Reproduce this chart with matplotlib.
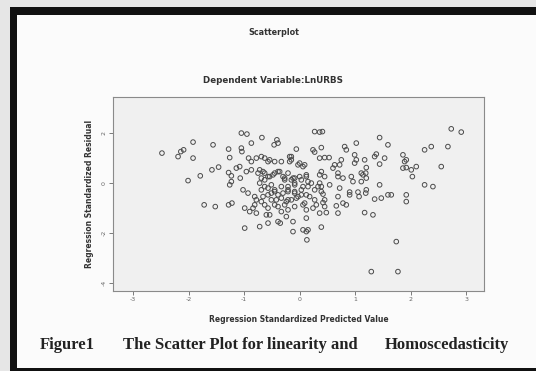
import matplotlib
matplotlib.use("Agg")
import matplotlib.pyplot as plt
from matplotlib.patches import Rectangle

# --- data (standardized predicted value, standardized residual)
pred = [
    -2.48, -2.19, -2.14, -2.09, -1.92, -1.92, -1.56, -1.28, -1.26, -1.05,
    -1.04, -0.95, -0.87, -0.68, -0.46, -0.41, -0.06, -2.01, -1.79, -1.58,
    -1.46, -1.28, -1.23, -1.23, -1.26, -1.14, -1.08, -1.07, -0.92, -0.87,
    0.27, 0.36, 0.41, 0.39, 0.27, 0.24, 0.36, 0.45, 0.53, 0.81,
    0.84, 1.02, 1.44, 1.59, 1.89, 1.92, 1.86, 2.25, 2.37, 2.67,
    2.73, 2.91, 2.55, 0.60, 0.63, 0.72, 0.75, 0.99, 1.02, 0.99,
    1.17, 1.20, 1.35, 1.38, 1.53, 1.44, 1.86, 1.92, 2.01, 2.03,
    2.10, 0.36, 0.39, 0.45, 0.69, 0.69, 0.78, 0.93, 0.96, 1.11,
    1.14, 1.19, 1.20, 1.11, 1.44, 2.25, 2.40, 0.21, 0.36, 0.39,
    0.54, 0.72, 0.90, 1.05, 1.20, 1.07, 1.47, 1.65, 1.92, 1.92,
    0.39, 0.69, 0.90, 1.19, 1.35, 1.59, 0.18, 0.27, 0.30, 0.42,
    0.45, 0.24, 0.36, 0.48, 0.66, 0.69, 0.78, 0.84, 0.39, 0.15,
    1.17, 1.32, 1.74, 1.29, 1.77, -1.72, -1.52, -1.28, -1.22, -0.99,
    -0.90, -0.78, -0.84, -0.78, -0.66, -0.57, -0.51, -0.39, -0.63, -0.57,
    -0.60, -0.54, -0.57, -0.42, -0.39, -0.33, -0.39, -0.35, -0.24, -0.21,
    -0.24, -0.15, -0.06, -0.99, -0.72, -0.12, -0.12, 0.06, 0.12, 0.12,
    0.12, 0.06, 0.13, -0.30, -0.21, -0.09, 0.03, 0.12, -1.05, -0.39,
    -0.69, -0.63, -0.57, -0.45, -0.33, -0.15, -0.15, -0.96, -0.87, -0.75,
    -0.66, -0.69, -0.63, -0.54, -0.45, -0.36, -0.27, -0.15, -0.09, 0.03,
    0.12, 0.15, -1.02, -0.93, -0.81, -0.69, -0.57, -0.45, -0.33, -0.21,
    -0.09, 0.03, -0.03, -0.33, -0.51, -0.69, -0.81, -0.45, -0.27, -0.09,
    0.09, -0.27, -0.21, -0.09, 0.06, -0.21, 0.27, 0.33, 0.42, 0.45,
    -0.18, 0.00, 0.09, -0.78, -0.54, -0.18, -0.03, 0.06, -0.72, -0.63,
    -0.57, -0.48, -0.39, -0.30, -0.21, -0.12, 0.00, 0.12, -0.72, -0.63,
    -0.51, -0.45, -0.09, 0.15,
]
resid = [
    1.19, 1.05, 1.25, 1.32, 1.63, 0.99, 1.52, 1.35, 1.01, 1.39,
    1.25, 1.95, 1.59, 1.81, 1.52, 1.72, 1.35, 0.09, 0.28, 0.52,
    0.63, 0.41, 0.28, 0.05, -0.08, 0.59, 0.65, 0.19, 0.99, 0.85,
    2.05, 2.03, 2.05, 1.41, 1.23, 1.32, 0.99, 1.01, 1.01, 1.45,
    1.32, 1.59, 1.81, 1.52, 0.85, 0.92, 1.12, 1.32, 1.45, 1.45,
    2.16, 2.03, 0.65, 0.59, 0.72, 0.72, 0.92, 1.12, 0.92, 0.79,
    0.92, 0.61, 1.05, 1.15, 0.99, 0.75, 0.59, 0.61, 0.52, 0.25,
    0.65, 0.32, 0.45, 0.25, 0.39, 0.25, 0.19, 0.25, 0.05, 0.39,
    0.32, 0.39, 0.19, 0.05, -0.08, -0.08, -0.15, -0.01, -0.01, -0.15,
    -0.08, -0.21, -0.37, -0.37, -0.28, -0.55, -0.61, -0.48, -0.48, -0.75,
    -0.35, -0.55, -0.48, -0.41, -0.65, -0.48, -0.55, -0.68, -0.88, -0.79,
    -0.95, -1.01, -1.21, -1.19, -0.92, -1.21, -0.81, -0.88, -1.77, -1.88,
    -1.19, -1.28, -2.35, -3.55, -3.55, -0.88, -0.95, -0.88, -0.81, -1.01,
    -1.15, -1.21, -1.01, -0.68, -0.55, -0.48, -0.41, -0.48, -0.88, -1.01,
    -1.28, -1.28, -1.61, -0.68, -0.95, -1.15, -1.55, -1.61, -1.35, -1.08,
    -0.75, -0.68, -0.61, -1.81, -1.75, -1.55, -1.95, -1.88, -1.95, -1.41,
    -1.08, -0.88, -2.28, -0.41, -0.35, -0.35, -0.48, -0.48, 1.99, 1.59,
    1.05, 0.99, 0.85, 0.85, 0.85, 1.05, 0.92, 0.45, 0.52, 0.39,
    0.45, 0.19, 0.12, 0.25, 0.39, 0.45, 0.19, 0.12, 0.19, 0.12,
    0.25, 0.05, -0.28, -0.41, -0.55, -0.28, -0.21, -0.35, -0.15, -0.28,
    -0.41, -0.28, -0.55, -0.61, -0.68, -0.75, -0.88, -0.88, -0.88, -0.95,
    -0.81, 0.12, -0.15, -0.01, -0.15, -0.68, -0.28, -0.15, -0.45, -0.68,
    0.85, 0.79, 0.72, 0.99, 0.92, 1.05, 0.72, 0.65, 0.52, 0.39,
    0.25, 0.32, 0.45, 0.25, 0.39, 0.19, 0.25, 0.32, -0.01, -0.15,
    -0.08, -0.28, -0.08, -0.15,
]

x_ticks = [-3, -2, -1, 0, 1, 2, 3]
y_ticks = [-4, -2, 0, 2]

fig = plt.figure(figsize=(5.36, 3.71), dpi=100)
fig.patch.set_facecolor("#fafafa")

# black photo frame around the page
fig.patches.append(Rectangle((0, 0), 1, 1, transform=fig.transFigure,
                             facecolor="#e6e6e6", edgecolor="none", zorder=-3))
fig.patches.append(Rectangle((0.019, 0.0), 0.981, 0.981, transform=fig.transFigure,
                             facecolor="#111111", edgecolor="none", zorder=-2))
fig.patches.append(Rectangle((0.032, 0.008), 0.968, 0.952,
                             transform=fig.transFigure,
                             facecolor="#fbfbfb", edgecolor="none", zorder=-1))

ax = fig.add_axes([0.211, 0.216, 0.692, 0.523])
ax.set_facecolor("#f0f0f0")
ax.scatter(pred, resid, s=11, facecolors="none", edgecolors="#4a4a4a", linewidths=0.7)

ax.set_xlim(-3.36, 3.32)
ax.set_ylim(-4.32, 3.44)
ax.set_xticks(x_ticks)
ax.set_yticks(y_ticks)
ax.set_xticklabels([str(v) for v in x_ticks], fontsize=4.5, color="#555555")
ax.set_yticklabels([str(v) for v in y_ticks], fontsize=4.5, color="#555555",
                   rotation=90, va="center")
ax.tick_params(direction="out", length=3, width=0.6, colors="#666666", pad=1.5)
for sp in ax.spines.values():
    sp.set_color("#8a8a8a")
    sp.set_linewidth(0.8)

ax.set_xlabel("Regression Standardized Predicted Value", fontsize=5.5,
              fontweight="bold", color="#333333", labelpad=9)
ax.set_ylabel("Regression Standardized Residual", fontsize=5.5,
              fontweight="bold", color="#333333", labelpad=6)

fig.text(0.51, 0.913, "Scatterplot", ha="center", va="center",
         fontsize=5.8, fontweight="bold", color="#333333")
fig.text(0.51, 0.784, "Dependent Variable:LnURBS", ha="center", va="center",
         fontsize=6.3, fontweight="bold", color="#333333")

serif = ["Liberation Serif", "DejaVu Serif"]
fig.text(0.075, 0.07, "Figure1", ha="left", va="center", fontsize=12,
         fontweight="bold", family=serif, color="#222222")
fig.text(0.229, 0.07, "The Scatter Plot for linearity and", ha="left", va="center",
         fontsize=12, fontweight="bold", family=serif, color="#222222")
fig.text(0.718, 0.07, "Homoscedasticity", ha="left", va="center", fontsize=12,
         fontweight="bold", family=serif, color="#222222")

fig.savefig("out.png", dpi=100, facecolor=fig.get_facecolor())
